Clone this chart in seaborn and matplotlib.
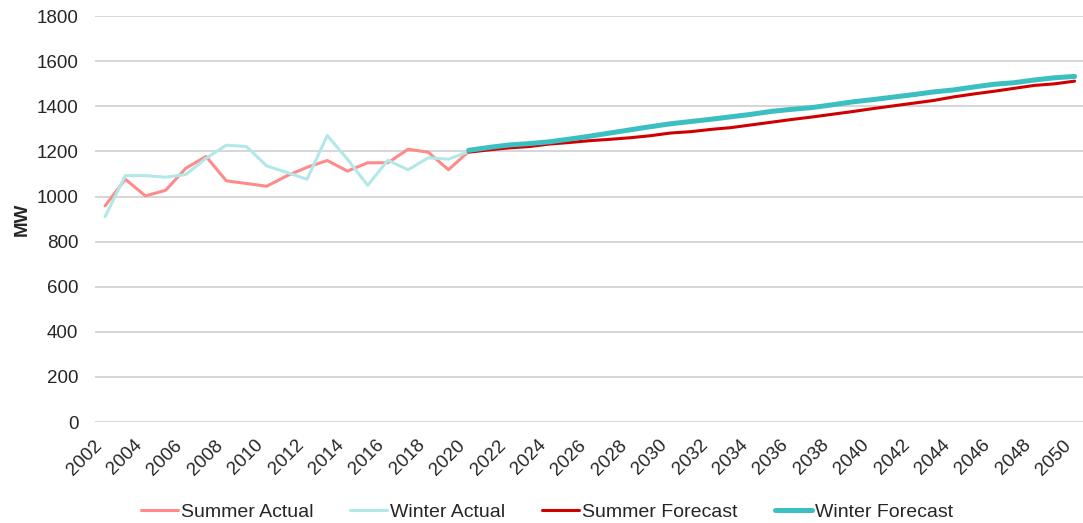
import matplotlib
matplotlib.use("Agg")
import matplotlib.pyplot as plt
import seaborn as sns
import pandas as pd

actual_years = list(range(2002, 2021))
summer_actual = [959, 1077, 1003, 1028, 1126, 1178, 1070, 1058, 1046, 1092, 1130,
                 1160, 1113, 1150, 1150, 1210, 1197, 1119, 1200]
winter_actual = [911, 1093, 1093, 1086, 1098, 1170, 1228, 1222, 1136, 1107, 1077,
                 1271, 1166, 1050, 1161, 1119, 1172, 1166, 1200]

forecast_years = list(range(2020, 2051))
summer_forecast = [1197, 1207, 1216, 1222, 1233, 1240, 1248, 1254, 1261, 1270, 1282,
                   1288, 1298, 1306, 1318, 1330, 1342, 1353, 1365, 1377, 1390,
                   1402, 1414, 1426, 1442, 1455, 1467, 1480, 1493, 1500, 1512]
winter_forecast = [1205, 1218, 1229, 1235, 1243, 1255, 1268, 1282, 1296, 1310, 1323,
                   1333, 1343, 1354, 1365, 1378, 1387, 1395, 1407, 1420, 1430,
                   1441, 1452, 1464, 1473, 1486, 1498, 1505, 1517, 1527, 1533]

tick_years = list(range(2002, 2051, 2))
y_ticks = list(range(0, 1801, 200))

sns.set_theme(style="white")
plt.rcParams['font.family'] = ['Liberation Sans', 'DejaVu Sans']

fig = plt.figure(figsize=(10.83, 5.23), dpi=100)
ax = fig.add_axes([0.0877, 0.193, 0.912, 0.776])

series = [
    ("Summer Actual", actual_years, summer_actual, "#FF8A8A", 2.2),
    ("Winter Actual", actual_years, winter_actual, "#B2E8E8", 2.2),
    ("Summer Forecast", forecast_years, summer_forecast, "#D00000", 2.2),
    ("Winter Forecast", forecast_years, winter_forecast, "#3CBFC1", 3.6),
]
for name, xs, ys, col, lw in series:
    df = pd.DataFrame({"Year": xs, "MW": ys})
    sns.lineplot(data=df, x="Year", y="MW", ax=ax, color=col, linewidth=lw,
                 label=name, legend=False)

ax.set_xlim(2001.5, 2050.4)
ax.set_ylim(0, 1800)
ax.set_yticks(y_ticks)
ax.set_xticks(tick_years)
ax.set_xticklabels([str(y) for y in tick_years], rotation=45, ha='right',
                   va='top', rotation_mode='default', fontsize=13.5)
ax.tick_params(axis='x', pad=10.5, length=0)
ax.tick_params(axis='y', labelsize=13.5, length=0, pad=12)
ax.yaxis.grid(True, color="#D0D0D0", linewidth=1.2)
ax.xaxis.grid(False)
for s in ax.spines.values():
    s.set_visible(False)
ax.set_xlabel("")
ax.set_ylabel("MW", fontsize=13.5, fontweight='bold', labelpad=4)

handles, labels = ax.get_legend_handles_labels()
fig.legend(handles, labels, loc='lower center', bbox_to_anchor=(0.505, -0.03),
           ncol=4, frameon=False, fontsize=14, handlelength=1.9,
           columnspacing=1.9, handletextpad=0.15)

fig.savefig("out.png", dpi=100)
